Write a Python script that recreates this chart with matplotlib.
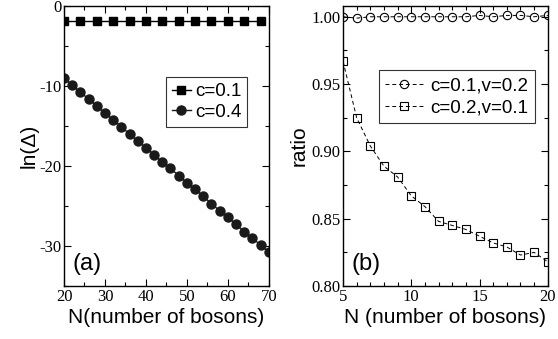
import matplotlib
matplotlib.use("Agg")
import matplotlib.pyplot as plt
from matplotlib.ticker import MultipleLocator, FormatStrFormatter

# ---------- data ----------
# panel (a): ln(Delta) vs N
n_a01 = [20, 24, 28, 32, 36, 40, 44, 48, 52, 56, 60, 64, 68]
ln_a01 = [-1.85] * len(n_a01)
n_a04 = list(range(20, 71, 2))
ln_a04 = [-9.0, -9.9, -10.8, -11.6, -12.5, -13.4, -14.2, -15.1, -16.0,
          -16.9, -17.7, -18.6, -19.5, -20.3, -21.2, -22.1, -22.9, -23.8,
          -24.7, -25.6, -26.4, -27.3, -28.2, -29.0, -29.9, -30.8]

# panel (b): ratio vs N
n_b = list(range(5, 21))
ratio_c01 = [1.000, 0.999, 1.000, 1.000, 1.000, 1.000, 1.000, 1.000,
             1.000, 1.000, 1.001, 1.000, 1.001, 1.001, 1.000, 1.001]
ratio_c02 = [0.967, 0.925, 0.904, 0.889, 0.881, 0.867, 0.859, 0.848,
             0.845, 0.842, 0.837, 0.832, 0.829, 0.823, 0.825, 0.818]

SANS = "Liberation Sans"
# tick labels are serif, everything else is set to sans explicitly
plt.rcParams["font.family"] = "serif"
plt.rcParams["font.serif"] = ["Liberation Serif", "DejaVu Serif"]
plt.rcParams["axes.unicode_minus"] = False

fig = plt.figure(figsize=(5.58, 3.39), dpi=100)
ax1 = fig.add_axes([0.1147, 0.1563, 0.367, 0.826])
ax2 = fig.add_axes([0.6147, 0.1563, 0.367, 0.826])


def style_axis(ax):
    ax.tick_params(which="both", direction="in", top=True, right=True,
                   width=0.8, colors="black", labelsize=12, pad=2)
    ax.tick_params(which="major", length=5)
    ax.tick_params(which="minor", length=3)
    for sp in ax.spines.values():
        sp.set_linewidth(1.0)


# ---------- panel (a) ----------
ax1.plot(n_a01, ln_a01, "-s", color="black", markersize=5.5, linewidth=1.0,
         label="c=0.1")
ax1.plot(n_a04, ln_a04, "-o", color="#1a1a1a", markersize=6.5, linewidth=1.0,
         label="c=0.4")
ax1.set_xlim(20, 70)
ax1.set_ylim(-35, 0)
ax1.xaxis.set_major_locator(MultipleLocator(10))
ax1.xaxis.set_minor_locator(MultipleLocator(5))
ax1.yaxis.set_major_locator(MultipleLocator(10))
ax1.yaxis.set_minor_locator(MultipleLocator(5))
ax1.set_xlabel("N(number of bosons)", fontfamily=SANS, fontsize=15, labelpad=2)
ax1.set_ylabel("ln(\u0394)", fontfamily=SANS, fontsize=15, labelpad=0)
style_axis(ax1)
leg1 = ax1.legend(loc="upper left", bbox_to_anchor=(0.5, 0.745),
                  prop={"family": SANS, "size": 13.5}, frameon=True,
                  fancybox=False, edgecolor="black", handlelength=1.0,
                  handletextpad=0.25, borderpad=0.3, labelspacing=0.2,
                  borderaxespad=0)
leg1.get_frame().set_linewidth(0.8)
ax1.text(0.04, 0.04, "(a)", transform=ax1.transAxes, fontfamily=SANS,
         fontsize=17, ha="left", va="bottom")

# ---------- panel (b) ----------
ax2.plot(n_b, ratio_c01, "--o", color="black", markersize=6, linewidth=0.7,
         markerfacecolor="none", markeredgewidth=0.8, dashes=(4, 3),
         label="c=0.1,v=0.2")
ax2.plot(n_b, ratio_c02, "--s", color="black", markersize=6, linewidth=0.7,
         markerfacecolor="none", markeredgewidth=0.8, dashes=(4, 3),
         label="c=0.2,v=0.1")
ax2.set_xlim(5, 20)
ax2.set_ylim(0.80, 1.008)
ax2.xaxis.set_major_locator(MultipleLocator(5))
ax2.xaxis.set_minor_locator(MultipleLocator(1))
ax2.yaxis.set_major_locator(MultipleLocator(0.05))
ax2.yaxis.set_minor_locator(MultipleLocator(0.025))
ax2.yaxis.set_major_formatter(FormatStrFormatter("%.2f"))
ax2.set_xlabel("N (number of bosons)", fontfamily=SANS, fontsize=15, labelpad=2)
ax2.set_ylabel("ratio", fontfamily=SANS, fontsize=15, labelpad=2)
style_axis(ax2)
leg2 = ax2.legend(loc="upper left", bbox_to_anchor=(0.175, 0.77),
                  prop={"family": SANS, "size": 13.5}, frameon=True,
                  fancybox=False, edgecolor="black", handlelength=2.0,
                  handletextpad=0.4, borderpad=0.35, labelspacing=0.3,
                  borderaxespad=0)
leg2.get_frame().set_linewidth(0.8)
ax2.text(0.04, 0.04, "(b)", transform=ax2.transAxes, fontfamily=SANS,
         fontsize=17, ha="left", va="bottom")

fig.savefig("out.png", dpi=100)
